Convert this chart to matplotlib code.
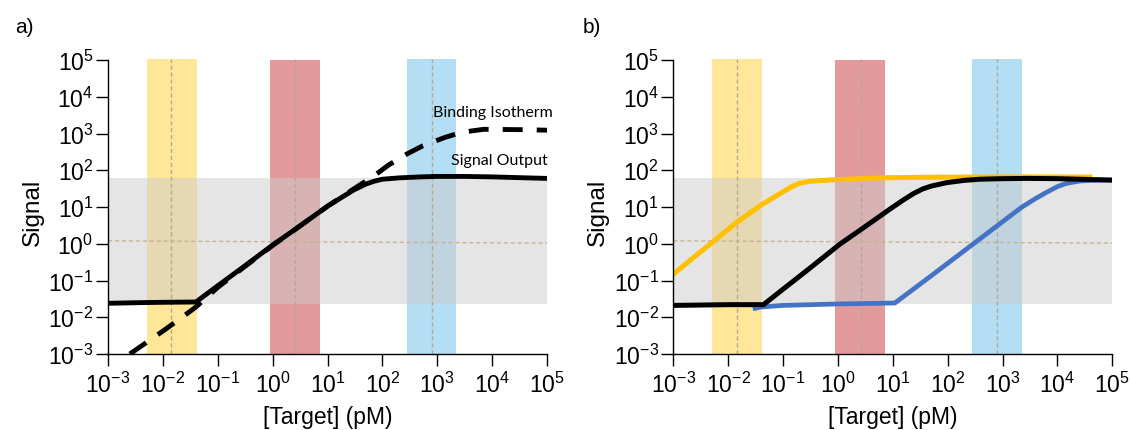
import matplotlib
matplotlib.use("Agg")
import matplotlib.pyplot as plt
from matplotlib.ticker import LogLocator, LogFormatterSciNotation, NullLocator

plt.rcParams['font.family'] = ['Liberation Sans', 'DejaVu Sans']
plt.rcParams['mathtext.fontset'] = 'custom'
plt.rcParams['mathtext.rm'] = 'Liberation Sans'
plt.rcParams['mathtext.it'] = 'Liberation Sans:italic'
plt.rcParams['mathtext.bf'] = 'Liberation Sans:bold'
plt.rcParams['axes.unicode_minus'] = False

# ---- data ----
xlim = [1e-3, 1e5]
ylim = [1e-3, 1e5]
band_lo = [0.0051, 0.89, 280]
band_hi = [0.041, 7.2, 2240]
band_mid = [0.0142, 2.6, 790]
band_colors = ['#FFE699', '#E39A9A', '#B4DEF3']
band_tops = [10**5.03, 10**5.0, 10**5.03]
gray_lo, gray_hi = 0.023, 62
hline_x = [1e-3, 1e5]
hline_y = [1.2, 1.04]

# panel a
sig_x = [1e-3, 0.004, 0.01, 0.04, 0.1, 0.3, 1, 3, 10, 20, 30, 50, 70, 100,
         200, 500, 1e3, 3e3, 1e4, 3e4, 1e5]
sig_y = [0.024, 0.025, 0.0255, 0.026, 0.072, 0.24, 0.92, 2.9, 10.5, 20, 29,
         42, 50, 57, 62, 66, 68, 68, 66, 63, 60]
iso_x = [0.0025, 0.01, 0.022, 0.04, 0.1, 0.3, 1, 3, 10, 30, 70, 130, 280,
         550, 1400, 2800, 7000, 3.7e4, 1e5]
iso_y = [0.001, 0.0042, 0.0098, 0.019, 0.065, 0.23, 0.9, 2.9, 10.5, 31, 70,
         139, 277, 466, 788, 1080, 1300, 1270, 1230]

# panel b
yel_x = [1e-3, 0.0143, 0.038, 0.1, 0.15, 0.2, 0.3, 1, 8.9, 100, 1000, 1e4,
         3.9e4]
yel_y = [0.15, 3.8, 10.8, 26, 37, 44, 50, 56, 63, 65, 66, 66, 65]
blk_x = [1e-3, 0.01, 0.044, 0.1, 0.3, 1.09, 3, 8.9, 15, 23.6, 35, 50, 96,
         200, 385, 1000, 2750, 1e4, 1e5]
blk_y = [0.021, 0.022, 0.022, 0.058, 0.21, 0.98, 2.8, 8.8, 15, 23, 31, 37,
         46, 53, 57, 59, 60, 59, 54]
blu_x = [0.031, 0.04, 0.1, 1, 10.9, 47, 385, 2218, 4000, 6300, 10000, 14650,
         25700, 5.9e4, 1e5]
blu_y = [0.0175, 0.019, 0.021, 0.023, 0.0244, 0.125, 1.35, 9.8, 17, 25, 36,
         44, 51, 54, 54]

W, H = 1131, 431
fig = plt.figure(figsize=(W / 100, H / 100), dpi=100)


def make_axes(left_px):
    ax = fig.add_axes([left_px / W, (H - 355) / H, 439 / W, 294 / H])
    ax.set_xscale('log')
    ax.set_yscale('log')
    ax.set_xlim(*xlim)
    ax.set_ylim(*ylim)
    for s in ['top', 'right']:
        ax.spines[s].set_visible(False)
    for s in ['left', 'bottom']:
        ax.spines[s].set_linewidth(1.0)
        ax.spines[s].set_zorder(10)
    ax.xaxis.set_major_locator(LogLocator(base=10, numticks=20))
    ax.yaxis.set_major_locator(LogLocator(base=10, numticks=20))
    ax.xaxis.set_minor_locator(NullLocator())
    ax.yaxis.set_minor_locator(NullLocator())
    ax.xaxis.set_major_formatter(LogFormatterSciNotation())
    ax.yaxis.set_major_formatter(LogFormatterSciNotation())
    ax.tick_params(axis='both', which='major', length=8.5, width=1.0,
                   labelsize=16.5, direction='out')
    ax.tick_params(axis='y', pad=2)
    ax.tick_params(axis='x', pad=4)
    # bands
    for lo, hi, c, top in zip(band_lo, band_hi, band_colors, band_tops):
        ax.fill_between([lo, hi], [1e-3, 1e-3], [top, top], color=c, lw=0,
                        zorder=1, clip_on=False)
    ax.axhspan(gray_lo, gray_hi, color='#cccccc', alpha=0.5, lw=0, zorder=2)
    for m in band_mid:
        ax.plot([m, m], [1e-3, 10**5.03], color='#b3a994', lw=1.0,
                dashes=(3, 2), zorder=3, clip_on=False)
    ax.plot(hline_x, hline_y, color='#c4b497', lw=1.0, dashes=(3, 2), zorder=3)
    ax.set_xlabel('[Target] (pM)', fontsize=16.5, va='center')
    ax.xaxis.set_label_coords(0.5, (355 - 418) / 294)
    ax.set_ylabel('Signal', fontsize=17.5, va='center')
    ax.yaxis.set_label_coords((33 - 108) / 439, (355 - 212) / 294)
    return ax


ax1 = make_axes(108)
ax1.plot(iso_x, iso_y, color='black', lw=3.5, dashes=(4.1, 2.9), zorder=5,
         solid_capstyle='butt')
ax1.plot(sig_x, sig_y, color='black', lw=3.5, zorder=6, solid_joinstyle='round')
ax1.text(1.014, 0.823, 'Binding Isotherm', transform=ax1.transAxes,
         ha='right', va='center', fontsize=11.5, family=['Lato', 'DejaVu Sans'])
ax1.text(1.002, 0.66, 'Signal Output', transform=ax1.transAxes,
         ha='right', va='center', fontsize=11.5, family=['Lato', 'DejaVu Sans'])

ax2 = make_axes(673.3)
ax2.plot(yel_x, yel_y, color='#FFC000', lw=3.6, zorder=5)
ax2.plot(blu_x, blu_y, color='#4472C4', lw=3.4, zorder=6)
ax2.plot(blk_x, blk_y, color='black', lw=3.6, zorder=7)

fig.text(24 / W, 1 - 28 / H, 'a)', fontsize=15, ha='center', va='center')
fig.text(592 / W, 1 - 28 / H, 'b)', fontsize=15, ha='center', va='center')

fig.savefig('out.png', dpi=100)
